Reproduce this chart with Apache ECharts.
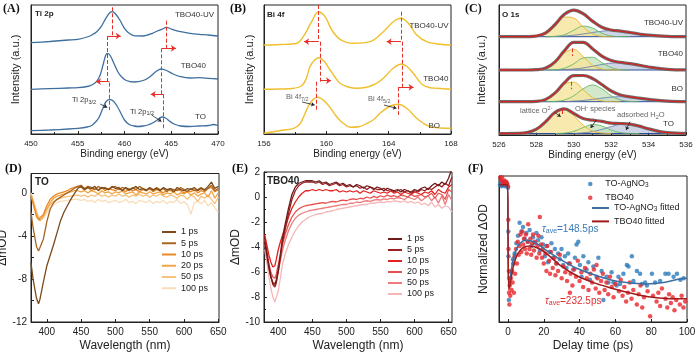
<!DOCTYPE html>
<html><head><meta charset="utf-8">
<script src="https://cdn.jsdelivr.net/npm/echarts@6.0.0/dist/echarts.min.js"></script>
<style>html,body{margin:0;padding:0;background:#fff}#c{width:700px;height:359px}</style>
</head><body><div id="c"></div>
<script>
const FONT = 'Liberation Sans';
// ---------- (A) Ti 2p ----------
const tiTO = [[450,3.3],[452,4],[454,5],[455,5.7],[456,7],[456.5,8.5],[457,13],[457.3,17],[457.7,26],[458,32],[458.4,34.7],[458.8,33],[459.2,28],[459.6,21],[460,14],[460.5,9.5],[461,8],[461.5,7.5],[462,8],[462.5,9],[463,11],[463.5,14],[464,17],[464.4,16],[464.8,13],[465.3,10],[466,8],[467,7.5],[468,8],[469,8.5],[469.5,9.5],[470,8.5]];
const tiTBO = [[450,44.7],[452,45.3],[454,46],[455,46.3],[456,47.5],[456.5,49],[457,52.3],[457.4,59],[457.7,69],[458,79],[458.2,80.7],[458.5,78],[458.9,70],[459.3,62],[459.7,57],[460.2,53.5],[461,52],[462,53.5],[462.7,57],[463.3,62],[463.9,65],[464.5,63.5],[465.2,60],[466,57.3],[467,56],[468,56.3],[469,55.7],[470,55]];
const tiUV = [[450,91.3],[452,92.5],[454,94],[455,94.7],[456,97],[456.5,99],[457,102],[457.5,107.3],[458,115.7],[458.4,121],[458.7,122.3],[459,120.5],[459.5,114],[460,105.7],[460.5,100.7],[461,98.3],[462,98],[463,100.7],[463.5,103],[464,104.7],[464.5,106.7],[465,105],[466,102.3],[467,100.7],[468,99.7],[469,99],[470,98]];
// ---------- (B) Bi 4f ----------
const biBO = [[156,0.7],[157,3.3],[157.9,5.7],[158.3,10],[158.55,17.5],[158.95,30.7],[159.42,36.7],[160.0,31],[160.66,17.3],[161.1,10.5],[161.55,6.7],[162.1,7.2],[162.6,10.7],[163.0,14],[163.45,20.7],[164.1,28],[164.62,29.7],[165.16,25.7],[165.8,15.7],[166.2,11],[166.65,7.3],[167.3,6],[168,5.7]];
const biTBO = [[156,44.7],[157,45],[157.8,45.5],[158.4,48],[158.7,55],[158.95,67.3],[159.25,74],[159.55,76.3],[159.9,72],[160.24,64],[160.55,57],[160.88,50.7],[161.4,47],[161.95,45.7],[162.5,46.5],[163.0,49],[163.45,53],[163.87,59],[164.3,66],[164.84,70],[165.2,67],[165.58,60.7],[165.9,54],[166.2,49],[166.6,46.5],[167.1,45.7],[168,44.7]];
const biUV = [[156,89],[157,89.5],[158.1,90.7],[158.52,97.3],[159.06,112.3],[159.49,122.3],[159.92,117.3],[160.35,104],[160.88,94.7],[161.73,90.7],[162.8,92.3],[163.66,102.3],[164.3,112.3],[164.79,115.7],[165.26,110.7],[165.8,99],[166.44,92.3],[167.3,89.7],[168,89]];
// ---------- (C) O 1s (component heights above each baseline) ----------
const xC = [526,527,527.5,528,528.5,529,529.5,530,530.5,531,531.5,532,532.5,533,533.5,534,535,536];
const cBase = [98.3, 65, 33.3, 1.5];
const cUVy = [0,0,0.1,0.7,3.8,11.6,19.7,18.6,9.7,2.8,0.4,0,0,0,0,0,0,0];
const cUVg = [0,0,0,0,0,0.3,2.0,6.5,10.6,8.6,3.5,0.7,0.1,0,0,0,0,0];
const cUVb = [0,0,0,0,0,0.3,0.7,1.5,2.7,4.2,5.5,6.0,5.5,4.2,2.7,1.5,0.3,0];
const cTBy = [0,0,0,0.3,2.0,7.9,17.1,20.5,13.5,4.9,1.0,0.1,0,0,0,0,0,0];
const cTBg = [0,0,0,0,0,0.3,1.8,6.2,12.0,12.7,7.4,2.4,0.4,0,0,0,0,0];
const cTBb = [0,0,0,0,0,0,0.4,1.0,2.1,3.7,5.5,6.9,7.2,6.4,4.8,3.0,0.7,0.1];
const cBOy = [0,0,0,0.3,2.3,8.5,17.3,19.5,12.1,4.2,0.8,0.1,0,0,0,0,0,0];
const cBOg = [0,0,0,0,0,0.3,1.7,6.0,12.9,16.7,12.9,6.0,1.7,0.3,0,0,0,0];
const cBOb = [0,0,0,0,0,0,0,0.6,1.2,2.3,3.5,4.6,5.0,4.6,3.5,2.3,0.6,0.1];
const cTOy = [0,0.15,1.0,4.3,11.9,21.2,24.3,17.8,8.4,2.5,0.5,0,0,0,0,0,0,0];
const cTOg = [0,0,0,0,0,0,0.4,2.2,5.9,8.9,7.5,3.4,0.9,0.1,0,0,0,0];
const cTOb = [0,0,0,0,0,0,0,0,0.7,1.9,4.1,6.9,9.1,9.3,7.4,4.6,0.8,0.1];
// ---------- (D) TO transient spectra ----------
const xD = [377,380,385,388,390,395,400,405,410,415,420,425,430,435,440,445,450,455,460,465,470,475,480,485,490,495,500,505,510,515,520,525,530,535,540,545,550,555,560,565,570,575,580,585,590,595,600,605,610,615,620,625,630,635,640,645,650];
const dNames = ['1 ps','5 ps','10 ps','20 ps','50 ps','100 ps'];
const d1 = [-6.5,-8.0,-9.8,-10.3,-9.9,-8.3,-6.8,-5.8,-4.8,-3.7,-2.6,-1.8,-1.2,-0.6,-0.1,0.4, 0.6,0.3,0.5,0.4,0.6,0.2,0.5,0.4,0.3,0.6, 0.4,0.5,0.2,0.5,0.3,0.4,0.6,0.3,0.4,0.2, 0.5,0.3,0.4,0.2,0.5,0.3,0.4,0.1,0.5,0.3, 0.2,0.4,0.3,0.5,0.2,0.4,0.3,0.6,1.0,0.4, 0.6];
const d5 = [-1.8,-3.2,-5.0,-5.4,-5.3,-4.3,-2.7,-1.5,-0.9,-0.6,-0.4,-0.2,0.0,0.2,0.4,0.6, 0.7,0.4,0.6,0.5,0.3,0.6,0.4,0.5,0.3,0.5, 0.6,0.3,0.5,0.4,0.2,0.5,0.3,0.6,0.4,0.3, 0.4,0.2,0.5,0.3,0.4,0.1,0.4,0.3,0.2,0.5, 0.3,0.1,0.4,0.2,0.3,0.5,0.2,0.4,0.7,0.2, 0.4];
const d10 = [-0.3,-1.0,-2.2,-2.5,-2.5,-2.0,-1.2,-0.6,-0.3,-0.1,0.0,0.1,0.2,0.4,0.5,0.6, 0.5,0.3,0.5,0.2,0.4,0.3,0.5,0.2,0.4,0.3, 0.2,0.4,0.3,0.1,0.4,0.2,0.3,0.1,0.3,0.2, 0.4,0.1,0.3,0.2,0.0,0.3,0.2,0.1,0.3,0.2, 0.0,0.2,0.1,0.3,0.0,0.2,0.1,0.4,0.5,0.1, 0.3];
const d20 = [-0.2,-0.8,-2.0,-2.4,-2.6,-2.2,-1.5,-0.9,-0.5,-0.3,-0.2,-0.1,0.0,0.1,0.2,0.2, 0.1,0.2,0.0,0.2,0.1,-0.1,0.2,0.0,0.1,-0.1, 0.1,0.0,0.2,-0.1,0.0,0.1,-0.2,0.1,0.0,-0.1, 0.1,-0.1,0.0,0.1,-0.2,0.0,-0.1,0.1,-0.2,0.0, -0.1,0.1,-0.2,0.0,-0.3,-0.1,0.0,-0.4,0.2,-0.5, 0.0];
const d50 = [-0.1,-0.7,-1.8,-2.3,-2.4,-2.2,-1.6,-1.1,-0.8,-0.6,-0.5,-0.4,-0.35,-0.3,-0.25,-0.2, -0.3,-0.2,-0.4,-0.2,-0.3,-0.1,-0.3,-0.2,-0.4,-0.2, -0.3,-0.1,-0.3,-0.2,-0.4,-0.2,-0.3,-0.1,-0.3,-0.2, -0.4,-0.2,-0.3,-0.1,-0.3,-0.4,-0.2,-0.3,-0.5,-0.2, -0.3,-0.6,-0.2,-0.4,-0.8,-0.3,-0.5,-0.2,-0.6,-1.0, -0.4];
const d100 = [0.0,-0.6,-1.6,-2.2,-2.5,-2.4,-1.9,-1.4,-1.1,-0.9,-0.8,-0.75,-0.7,-0.65,-0.6,-0.6, -0.7,-0.6,-0.8,-0.7,-0.9,-0.6,-0.8,-0.7,-0.9,-0.8, -0.7,-0.9,-0.8,-0.6,-0.9,-0.8,-1.0,-0.7,-0.8,-0.9, -0.7,-1.0,-0.8,-0.9,-0.7,-1.0,-0.8,-0.9,-0.6,-1.0, -0.8,-1.1,-2.0,-0.9,-0.8,-1.0,-0.7,-1.2,-0.9,-1.4, -1.8];
const dTicks = [400,450,500,550,600,650];
const dYLabels = [-12,-8,-4,0];
// ---------- (E) TBO40 transient spectra ----------
const xE = [380,383,386,389,392,395,397,400,403,406,410,415,420,425,430,435,440,445,450,455,460,465,470,475,480,485,490,495,500,505,510,515,520,525,530,535,540,545,550,555,560,565,570,575,580,585,590,595,600,605,610,615,620,625,630,635,640,645,650,655];
const e1 = [-3.6,-4.6,-5.6,-6.4,-6.9,-7.0,-6.7,-5.8,-4.6,-3.3,-2.2,-0.9,0.2,0.8,1.1,1.2,1.3,1.3, 1.3,1.2,1.3,1.1,1.2,1.0,1.1,1.2,1.0,1.1, 0.9,1.0,0.8,1.0,0.9,0.7,0.9,0.8,0.6,0.8, 0.7,0.5,0.7,0.6,0.5,0.6,0.4,0.6,0.5,0.4, 0.6,0.5,0.7,0.8,0.6,0.9,1.1,0.9,1.2,1.0, 1.5,2.3];
const e5 = [-3.3,-4.3,-5.4,-6.3,-7.0,-7.2,-6.9,-6.0,-4.9,-3.7,-2.6,-1.3,-0.2,0.5,0.9,1.1,1.2,1.2, 1.2,1.1,1.2,1.0,1.1,0.9,1.0,1.1,0.9,1.0, 0.8,0.9,0.8,0.9,0.7,0.8,0.6,0.8,0.7,0.6, 0.6,0.7,0.5,0.6,0.4,0.5,0.6,0.4,0.5,0.3, 0.5,0.4,0.6,0.5,0.7,0.6,0.8,1.0,0.8,1.1, 0.9,1.6];
const e10 = [-3.0,-3.8,-4.6,-5.2,-5.6,-5.5,-5.0,-4.2,-3.6,-3.1,-2.5,-1.6,-0.9,-0.4,0.0,0.3,0.5,0.5, 0.6,0.5,0.6,0.5,0.6,0.5,0.5,0.6,0.4,0.5, 0.4,0.5,0.4,0.5,0.3,0.5,0.4,0.3,0.5,0.4, 0.3,0.4,0.3,0.5,0.3,0.4,0.2,0.4,0.3,0.2, 0.4,0.3,0.2,0.4,0.3,0.5,0.2,0.6,0.4,0.3, 0.8,1.0];
const e20 = [-3.4,-4.3,-5.3,-6.0,-6.4,-6.5,-6.2,-5.4,-4.6,-3.8,-3.0,-2.2,-1.6,-1.2,-0.95,-0.8,-0.7,-0.65, -0.6,-0.55,-0.5,-0.45,-0.5,-0.4,-0.35,-0.4,-0.3,-0.25, -0.3,-0.2,-0.15,-0.2,-0.1,-0.15,0.0,-0.1,0.05,-0.05, 0.1,0.0,0.15,0.05,0.1,0.0,0.15,0.1,0.0,0.2, 0.05,0.1,0.2,0.0,0.1,0.3,-0.1,0.3,0.2,-0.2, 0.6,0.4];
const e50 = [-3.8,-4.7,-5.7,-6.4,-6.8,-6.9,-6.6,-5.9,-5.1,-4.3,-3.5,-2.7,-2.1,-1.7,-1.45,-1.3,-1.2,-1.1, -1.05,-1.0,-0.95,-0.9,-0.85,-0.8,-0.75,-0.7,-0.65,-0.6, -0.6,-0.5,-0.5,-0.4,-0.45,-0.35,-0.3,-0.35,-0.25,-0.2, -0.25,-0.15,-0.2,-0.1,-0.15,-0.05,-0.1,-0.2,0.0,-0.1, -0.2,0.0,-0.3,-0.1,0.1,-0.3,0.0,-0.5,0.1,-0.6, 0.2,-0.3];
const e100 = [-4.2,-5.2,-6.3,-7.3,-8.0,-8.4,-8.3,-7.5,-6.5,-5.4,-4.6,-3.8,-3.2,-2.7,-2.3,-2.0,-1.8,-1.6, -1.5,-1.4,-1.35,-1.3,-1.2,-1.15,-1.1,-1.0,-0.95,-0.9, -0.85,-0.8,-0.75,-0.7,-0.65,-0.6,-0.6,-0.5,-0.5,-0.45, -0.4,-0.45,-0.35,-0.4,-0.3,-0.35,-0.4,-0.3,-0.45,-0.35, -0.5,-0.4,-0.6,-0.5,-0.7,-0.4,-0.8,-0.6,-0.9,-0.7, -0.8,-1.2];
// ---------- (F) kinetics ----------
const fBlue = [[-4.5,0.94],[-4,0.96],[-3.5,0.93],[-3,0.95],[-2.5,0.94],[-2,0.96],[-1.5,0.93],[-1,0.95],[-0.5,0.94],[0,0.92],[0.2,0.62],[0.3,0.45],[0.5,0.15],[0.8,0.3],[1.9,0.34],[2.8,0.43],[3.7,0.47],[4.7,0.54],[5.6,0.59],[6.5,0.68],[7.5,0.62],[8.4,0.65],[9.3,0.57],[10.3,0.61],[11.2,0.55],[12.1,0.63],[13.1,0.52],[14,0.58],[15,0.54],[15.9,0.61],[16.8,0.56],[17.8,0.49],[18.7,0.58],[19.6,0.53],[20.6,0.45],[21.5,0.52],[22.4,0.41],[23.4,0.48],[24.3,0.54],[25.2,0.44],[26.2,0.5],[27.1,0.4],[28,0.47],[29,0.43],[29.9,0.5],[30.8,0.39],[31.8,0.45],[32.7,0.37],[33.6,0.47],[34.6,0.4],[36.4,0.36],[37.4,0.44],[38.3,0.53],[39.3,0.55],[40.2,0.39],[41.1,0.31],[42.1,0.45],[43.9,0.36],[44.9,0.41],[45.8,0.29],[47.7,0.38],[49.5,0.31],[50.5,0.44],[52.3,0.35],[53.3,0.15],[55.1,0.31],[56.1,0.27],[57.9,0.34],[58.9,0.27],[60.7,0.25],[61.7,0.31],[62.6,0.26],[64.5,0.33],[66.4,0.39],[67.3,0.38],[69.2,0.45],[70.1,0.28],[72,0.35],[73.8,0.33],[74.8,0.26],[76.6,0.27],[77.6,0.25],[80.4,0.33],[82.2,0.27],[85,0.28],[87.9,0.33],[89.7,0.33],[92.5,0.31],[94.4,0.33],[96.3,0.29],[98.1,0.3]];
const fRed = [[-4.2,0.99],[-3.8,0.97],[-3.3,0.99],[-3,0.96],[-2.5,0.95],[-2,0.97],[-1.5,0.94],[-1,0.96],[-0.5,0.95],[0,0.93],[0.2,0.7],[0.3,0.5],[0.5,0.35],[0.6,0.2],[0.8,0.12],[1,0.25],[1.3,0.18],[1.6,0.3],[2,0.22],[2.3,0.35],[2.6,0.27],[3,0.4],[3.3,0.2],[3.7,0.45],[4,0.33],[4.5,0.5],[5,0.4],[5.5,0.55],[6,0.46],[6.5,0.52],[7,0.6],[7.5,0.48],[8,0.62],[8.5,0.53],[9,0.57],[9.5,0.5],[10,0.6],[10.5,0.47],[11,0.55],[11.3,0.67],[12,0.5],[12.5,0.57],[13,0.46],[13.5,0.54],[14,0.6],[14.5,0.49],[15,0.55],[16,0.44],[16.5,0.52],[17,0.59],[17.5,0.47],[17.8,0.72],[18.5,0.53],[19,0.44],[19.5,0.5],[20,0.4],[21,0.47],[21.5,0.35],[22,0.52],[23,0.42],[23.5,0.33],[24,0.48],[25,0.37],[26,0.44],[26.5,0.32],[27,0.4],[28,0.35],[29,0.46],[30,0.3],[31,0.38],[32,0.34],[33,0.28],[34,0.4],[34.6,0.2],[35,0.33],[36,0.25],[37,0.36],[38,0.31],[39,0.42],[40,0.28],[41,0.34],[42,0.24],[43,0.37],[44,0.3],[45,0.22],[46,0.33],[47,0.27],[48,0.36],[49,0.23],[49.5,0.39],[50,0.3],[51,0.2],[52,0.28],[53,0.33],[54,0.22],[55,0.27],[56,0.19],[57,0.31],[58,0.24],[59,0.17],[60,0.26],[62,0.21],[63,0.29],[64,0.18],[65,0.24],[66,0.14],[67,0.2],[68,0.27],[69,0.16],[70,0.22],[72,0.12],[73,0.19],[74,0.25],[75,0.1],[76,0.17],[78,0.21],[79.4,0.04],[81,0.18],[83,0.14],[84,0.2],[85,0.11],[86,0.23],[88,0.16],[89,0.1],[90,0.19],[91,0.13],[92,0.17],[93,0.08],[94,0.15],[96,0.12],[97,0.18],[98,0.1],[99,0.14]];
const fBlueFit = [[-5,0.93],[-0.2,0.93],[0.05,0.6],[0.3,0.3],[0.9,0.27],[1.8,0.35],[2.8,0.42],[4.2,0.48],[5.6,0.52],[8.4,0.555],[10.3,0.56],[13,0.555],[15.9,0.54],[21.5,0.49],[29,0.43],[38,0.37],[47.7,0.325],[57,0.29],[66.3,0.27],[77.5,0.26],[87,0.27],[96,0.295],[100,0.3]];
const fRedFit = [[-5,0.94],[-0.2,0.94],[0.05,0.6],[0.4,0.22],[0.9,0.24],[1.8,0.3],[2.8,0.37],[4.2,0.43],[5.6,0.47],[8.4,0.51],[12.2,0.52],[17.8,0.5],[23.4,0.45],[29,0.39],[38,0.32],[47.7,0.27],[57,0.235],[66,0.205],[75,0.18],[82,0.167],[90,0.16],[100,0.16]];
const fTicks = [0,20,40,60,80,100];

const dColors = ['#7b4a1b','#a8651f','#e98a26','#f2a547','#f6c37f','#f9ddb8'];
const eColors = ['#6e1b1b','#9e1f22','#e2231f','#e4514f','#ee7b7b','#f6b6b6'];

const chart = echarts.init(document.getElementById('c'), null, {renderer:'canvas', width:700, height:359});

function grid(l,t,w,h){return {left:l,top:t,width:w,height:h,show:true,borderColor:'#222',borderWidth:1,containLabel:false,outerBoundsMode:'none'};}
const AX = {color:'#222', width:1};
function xAxis(gi,min,max,o){
  return Object.assign({type:'value',gridIndex:gi,min,max,splitLine:{show:false},
    axisLine:{show:true,onZero:false,lineStyle:AX},
    axisTick:{show:true,inside:true,length:3,lineStyle:AX},
    axisLabel:{fontSize:8,color:'#222',fontFamily:FONT,margin:6},
    nameLocation:'middle',nameGap:15,nameTextStyle:{fontSize:10,color:'#222',fontFamily:FONT}},o);
}
function yAxis(gi,min,max,o){
  return Object.assign({type:'value',gridIndex:gi,min,max,splitLine:{show:false},
    axisLine:{show:true,onZero:false,lineStyle:AX},
    axisTick:{show:false},axisLabel:{show:false},
    nameLocation:'middle',nameGap:10,nameTextStyle:{fontSize:11,color:'#222',fontFamily:FONT}},o);
}
const minorT = {show:true,splitNumber:2,length:2,lineStyle:AX};

const grids = [grid(31,5,187,129),grid(264,5,187,129),grid(499,5,187,130),grid(31,173.5,188,148.5),grid(264,172,188,150),grid(499,176,188,146)];
const xAxes = [
  xAxis(0,450,470,{interval:5,minorTick:minorT,name:'Binding energy (eV)'}),
  xAxis(1,156,168,{interval:4,minorTick:minorT,name:'Binding energy (eV)'}),
  xAxis(2,526,536,{interval:2,minorTick:minorT,name:'Binding energy (eV)'}),
  xAxis(3,377,651,{axisTick:{show:true,inside:true,length:3,lineStyle:AX,customValues:dTicks},
    axisLabel:{fontSize:10,color:'#222',fontFamily:FONT,margin:5,customValues:dTicks},
    name:'Wavelength (nm)',nameGap:18,nameTextStyle:{fontSize:12,color:'#222',fontFamily:FONT}}),
  xAxis(4,379,655,{axisTick:{show:true,inside:true,length:3,lineStyle:AX,customValues:dTicks},
    axisLabel:{fontSize:10,color:'#222',fontFamily:FONT,margin:5,customValues:dTicks},
    name:'Wavelength (nm)',nameGap:18,nameTextStyle:{fontSize:12,color:'#222',fontFamily:FONT}}),
  xAxis(5,-5,100,{axisTick:{show:true,inside:true,length:3,lineStyle:AX,customValues:fTicks},
    axisLabel:{fontSize:10,color:'#222',fontFamily:FONT,margin:5,customValues:fTicks},
    name:'Delay time (ps)',nameGap:18,nameTextStyle:{fontSize:12,color:'#222',fontFamily:FONT}})
];
const yAxes = [
  yAxis(0,0,129,{name:'Intensity (a.u.)',nameGap:9.5}),
  yAxis(1,0,129,{name:'Intensity (a.u.)',nameGap:8.5}),
  yAxis(2,0,130,{name:'Intensity (a.u.)',nameGap:11.5}),
  yAxis(3,-12,1.8,{axisTick:{show:true,inside:true,length:3,lineStyle:AX,customValues:[-12,-10,-8,-6,-4,-2,0]},
    axisLabel:{show:true,fontSize:10,color:'#222',fontFamily:FONT,margin:4,customValues:dYLabels},
    name:'ΔmOD',nameGap:15,nameTextStyle:{fontSize:12,color:'#222',fontFamily:FONT}}),
  yAxis(4,-10,2,{interval:2,axisTick:{show:true,inside:true,length:3,lineStyle:AX},minorTick:minorT,
    axisLabel:{show:true,fontSize:10,color:'#222',fontFamily:FONT,margin:4},
    name:'ΔmOD',nameGap:16,nameTextStyle:{fontSize:12,color:'#222',fontFamily:FONT}}),
  yAxis(5,0,1,{name:'Normalized ΔOD',nameGap:9.5,nameTextStyle:{fontSize:12,color:'#222',fontFamily:FONT}})
];

const series = [];
function line(gi,name,data,color,w,o){
  return Object.assign({type:'line',name,xAxisIndex:gi,yAxisIndex:gi,data,symbol:'none',showSymbol:false,
    lineStyle:{color,width:w},itemStyle:{color},silent:true,animation:false,z:3},o||{});
}
const RED = '#e8302a';
function dashed(segs){return {silent:true,animation:false,symbol:['none','none'],label:{show:false},
  lineStyle:{color:RED,type:'dashed',width:1},emphasis:{disabled:true},
  data:segs.map(s=>[{coord:[s[0],s[1]]},{coord:[s[0],s[2]]}])};}
function arrows(segs,color,w,size){return {silent:true,animation:false,symbol:['none','arrow'],symbolSize:size||5,label:{show:false},
  lineStyle:{color,type:'solid',width:w||1},emphasis:{disabled:true},
  data:segs.map(s=>[{coord:[s[0],s[1]]},{coord:[s[2],s[3]]}])};}

// A
const blueA = '#3f6f9f';
series.push(line(0,'A_TO',tiTO,blueA,1.3,{smooth:0.3,markLine:dashed([[458.74,126.7,97.3],[458.17,98,51.3],[458.38,51.3,24],[464.51,113.3,84.7],[463.98,85.7,39],[464.16,39.7,5.7]])}));
series.push(line(0,'A_TBO',tiTBO,blueA,1.3,{smooth:0.3,markLine:arrows([[458.17,98,459.6,98],[458.38,52.3,456.95,52.3],[463.98,85.7,465.5,85.7],[464.16,39.7,462.8,39.7]],RED,1,5)}));
series.push(line(0,'A_UV',tiUV,blueA,1.3,{smooth:0.3,markLine:arrows([[457.4,30,458.15,26.5],[462.9,19,463.95,12.5]],'#222',0.8,3.5)}));
// B
const yel = '#f0bf2c';
series.push(line(1,'B_BO',biBO,yel,1.4,{smooth:0.35,markLine:dashed([[159.49,129,92.3],[159.6,92.3,52.3],[159.34,52.3,24],[164.79,122.3,92.3],[164.88,92.3,46.7],[164.62,46.7,19]])}));
series.push(line(1,'B_TBO',biTBO,yel,1.4,{smooth:0.35,markLine:arrows([[159.49,92.3,158.57,92.3],[159.6,53.3,160.3,53.3],[164.79,92.3,163.87,92.3],[164.62,46.7,165.6,46.7]],RED,1,5)}));
series.push(line(1,'B_UV',biUV,yel,1.4,{smooth:0.35,markLine:arrows([[158.45,32,159.25,29],[163.7,29,164.5,25.7]],'#222',0.8,3.5)}));
// C
const cSets = [[cUVy,cUVg,cUVb],[cTBy,cTBg,cTBb],[cBOy,cBOg,cBOb],[cTOy,cTOg,cTOb]];
const compStyle = [{line:'#e6b52e',fill:'#f6e39a'},{line:'#67b867',fill:'#c6e3bd'},{line:'#6c7fb3',fill:'#c1c9e0'}];
cSets.forEach((comps,k)=>{
  const base = cBase[k];
  series.push(line(2,'C_base'+k,[[526,base],[536,base]],'#2c4f9c',1,{z:2}));
  [2,1,0].forEach(ci=>{
    const v = comps[ci];
    const pts = [];
    xC.forEach((x,i)=>{ if (v[i]>0 || (i>0&&v[i-1]>0) || (i<v.length-1&&v[i+1]>0)) pts.push([x, base+v[i]]); });
    series.push(line(2,'C_c'+k+ci,pts,compStyle[ci].line,0.9,{smooth:0.4,z:2,
      areaStyle:{color:compStyle[ci].fill,opacity:0.8,origin:base}}));
  });
  const env = xC.map((x,i)=>[x, base+comps[0][i]+comps[1][i]+comps[2][i]]);
  series.push(line(2,'C_data'+k,env,'#6d6d6d',3.2,{smooth:0.4,z:3}));
  series.push(line(2,'C_env'+k,env,'#d42222',1.3,{smooth:0.4,z:4}));
});
series[series.length-1].markLine = dashed([[529.92,86.7,79],[529.85,53.3,45.7],[529.39,25,19]]);
series[series.length-2].markLine = arrows([[529.0,22.3,529.3,18.3],[531.2,15,530.9,7],[533.0,13.3,532.8,5]],'#222',0.8,3.5);
// D
const dData = [d1,d5,d10,d20,d50,d100];
for (let i=5;i>=0;i--) series.push(line(3,dNames[i],xD.map((x,j)=>[x,dData[i][j]]),dColors[i],1.3));
// E
const eData = [e1,e5,e10,e20,e50,e100];
for (let i=5;i>=0;i--) series.push(line(4,'E'+dNames[i],xE.map((x,j)=>[x,eData[i][j]]),eColors[i],1.3));
// F
series.push({type:'scatter',name:'TO-AgNO3',xAxisIndex:5,yAxisIndex:5,data:fBlue,symbolSize:4.5,itemStyle:{color:'#2b7bba'},silent:true,animation:false});
series.push({type:'scatter',name:'TBO40',xAxisIndex:5,yAxisIndex:5,data:fRed,symbolSize:4.5,itemStyle:{color:'#e8262a'},silent:true,animation:false});
series.push(line(5,'TO-AgNO3 fitted',fBlueFit,'#3d6e9e',1.5,{smooth:0.3,z:5}));
series.push(line(5,'TBO40 fitted',fRedFit,'#a51b1b',1.5,{smooth:0.3,z:5}));

const LT = {fontSize:9,fontFamily:FONT,color:'#222',lineHeight:10};
const legends = [
  {orient:'vertical',left:162,top:227,itemWidth:14,itemHeight:2,itemGap:1.25,icon:'rect',padding:0,selectedMode:false,
   data:dNames,textStyle:LT},
  {orient:'vertical',left:388,top:234,itemWidth:14,itemHeight:2,itemGap:1,icon:'rect',padding:0,selectedMode:false,
   data:dNames.map(n=>'E'+n),formatter:n=>n.slice(1),textStyle:LT},
  {orient:'vertical',left:588,top:179,itemWidth:20,itemHeight:4.5,itemGap:3.7,icon:'circle',padding:0,selectedMode:false,
   data:['TO-AgNO3','TBO40'],formatter:n=>n.replace('NO3','NO{s|3}'),
   textStyle:Object.assign({rich:{s:{fontSize:6.5,lineHeight:6,verticalAlign:'bottom',fontFamily:FONT,color:'#222'}}},LT)},
  {orient:'vertical',left:592,top:203,itemWidth:17,itemHeight:2,itemGap:3.4,icon:'rect',padding:0,selectedMode:false,
   data:['TO-AgNO3 fitted','TBO40 fitted'],formatter:n=>n.replace('NO3','NO{s|3}'),
   textStyle:Object.assign({rich:{s:{fontSize:6.5,lineHeight:6,verticalAlign:'bottom',fontFamily:FONT,color:'#222'}}},LT)}
];

const RICH = {sub:{fontSize:5.5,lineHeight:6,verticalAlign:'bottom'},sup:{fontSize:5.5,lineHeight:6,verticalAlign:'top'},
  sb:{fontSize:7,lineHeight:7,verticalAlign:'bottom'},tau:{fontStyle:'italic',fontSize:10}};
function T(x,y,text,o){return {type:'text',x,y,z:50,silent:true,style:Object.assign({text,fill:'#222',fontFamily:FONT,fontSize:8,align:'left',verticalAlign:'middle',lineHeight:10,rich:RICH},o||{})};}
const PANEL = {fontFamily:'Liberation Serif',fontWeight:'bold',fontSize:12,fill:'#111'};
const graphic = [
  T(3,9,'(A)',PANEL),T(230,8.5,'(B)',PANEL),T(465,8.5,'(C)',PANEL),
  T(5,169,'(D)',PANEL),T(232,169,'(E)',PANEL),T(468,169,'(F)',PANEL),
  T(35,14,'Ti 2p',{fontWeight:'bold'}),
  T(214,15,'TBO40-UV',{align:'right',fill:'#333'}),T(206,66,'TBO40',{align:'right',fill:'#333'}),T(206,117,'TO',{align:'right',fill:'#333'}),
  T(72,100,'Ti 2p{sub|3/2}',{fontSize:7.5,fill:'#333'}),T(130,111.5,'Ti 2p{sub|1/2}',{fontSize:7.5,fill:'#333'}),
  T(267,15,'Bi 4f',{fontWeight:'bold'}),
  T(448.5,26,'TBO40-UV',{align:'right',fill:'#333'}),T(448.5,78.3,'TBO40',{align:'right',fill:'#333'}),T(440,126,'BO',{align:'right',fill:'#333'}),
  T(286,97,'Bi 4f{sub|7/2}',{fontSize:7.5,fill:'#666'}),T(368,99.3,'Bi 4f{sub|5/2}',{fontSize:7.5,fill:'#666'}),
  T(502,15,'O 1s',{fontWeight:'bold'}),
  T(683,22.7,'TBO40-UV',{align:'right',fill:'#333'}),T(683,53.3,'TBO40',{align:'right',fill:'#333'}),T(683,88.3,'BO',{align:'right',fill:'#333'}),T(674,124,'TO',{align:'right',fill:'#333'}),
  T(520,110.7,'lattice O{sup|2-}',{fontSize:7.5,fill:'#666'}),T(575,109.3,'OH{sup|-} species',{fontSize:7.5,fill:'#666'}),T(617,115,'adsorbed H{sub|2}O',{fontSize:7.5,fill:'#666'}),
  T(35,182,'TO',{fontWeight:'bold',fontSize:10}),
  T(267,181.5,'TBO40',{fontWeight:'bold',fontSize:10}),
  T(542,229,'{tau|τ}{sb|ave}=148.5ps',{fontSize:10,fill:'#3a7ab8',lineHeight:12}),
  T(545,301,'{tau|τ}{sb|ave}=232.5ps',{fontSize:10,fill:'#e03030',lineHeight:12})
];

chart.setOption({animation:false,backgroundColor:'#fff',textStyle:{fontFamily:FONT},
  grid:grids,xAxis:xAxes,yAxis:yAxes,series,legend:legends,graphic});
</script></body></html>
